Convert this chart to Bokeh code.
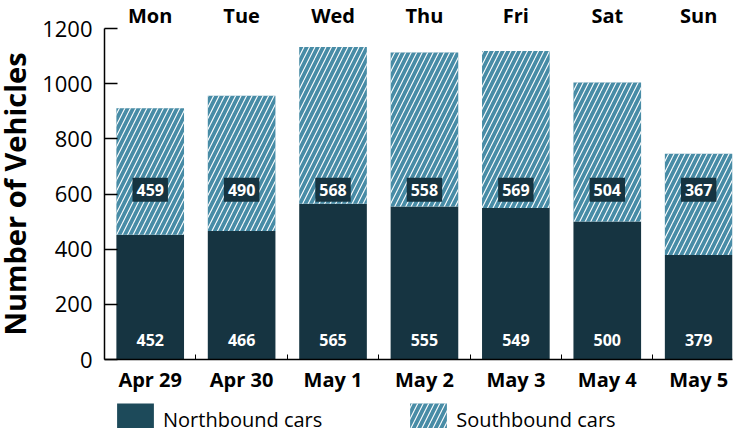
from bokeh.plotting import figure
from bokeh.layouts import column
from bokeh.models import (ColumnDataSource, FixedTicker, LinearAxis, Range1d,
                          Legend, LegendItem, SingleIntervalTicker)
from bokeh.core.properties import value
from bokeh.embed import file_html
from bokeh.resources import INLINE

dates = ["Apr 29", "Apr 30", "May 1", "May 2", "May 3", "May 4", "May 5"]
days = ["Mon", "Tue", "Wed", "Thu", "Fri", "Sat", "Sun"]
northbound = [452, 466, 565, 555, 549, 500, 379]
southbound = [459, 490, 568, 558, 569, 504, 367]

FONT = "Open Sans"
DARK = "#163441"
LEG_DARK = "#1d4a5a"
SOUTH = "#488ca6"
SOUTH_LABEL_Y = 615

xs = list(range(len(dates)))
src = ColumnDataSource(dict(
    x=xs,
    north=northbound,
    total=[n + s for n, s in zip(northbound, southbound)],
    nlab=[str(v) for v in northbound],
    slab=[str(v) for v in southbound],
    zero=[0] * len(xs),
    sy=[SOUTH_LABEL_Y] * len(xs),
))

p = figure(width=747, height=403, output_backend="svg", toolbar_location=None,
           x_range=Range1d(-0.5, 6.37), y_range=Range1d(0, 1200),
           min_border_left=108, min_border_right=7, min_border_top=30,
           min_border_bottom=35)
p.outline_line_color = None
p.xgrid.visible = False
p.ygrid.visible = False
p.background_fill_color = "white"

BW = 0.74
HATCH = dict(hatch_pattern="/", hatch_color="white", hatch_scale=11, hatch_weight=1.1)
p.vbar(x="x", bottom=0, top="north", width=BW, source=src,
       fill_color=DARK, line_color=None)
p.vbar(x="x", bottom="north", top="total", width=BW, source=src,
       fill_color=SOUTH, line_color=None, **HATCH)

p.text(x="x", y="zero", text="nlab", source=src, y_offset=-20,
       text_align="center", text_baseline="middle", text_color="white",
       text_font=value(FONT), text_font_size="16px", text_font_style="bold")
p.text(x="x", y="sy", text="slab", source=src,
       text_align="center", text_baseline="middle", text_color="white",
       text_font=value(FONT), text_font_size="16px", text_font_style="bold",
       background_fill_color=DARK,
       padding=dict(left=4, right=4, top=6, bottom=6))

# bottom axis
xa = p.xaxis[0]
xa.ticker = FixedTicker(ticks=xs, minor_ticks=[i + 0.5 for i in xs[:-1]])
xa.major_label_overrides = {i: d for i, d in zip(xs, dates)}
xa.major_tick_in = 0
xa.major_tick_out = 0
xa.minor_tick_in = 5
xa.minor_tick_out = 0
xa.axis_line_width = 1.5
xa.major_label_text_font = FONT
xa.major_label_text_font_size = "20px"
xa.major_label_text_font_style = "bold"
xa.major_label_text_color = "black"
xa.major_label_standoff = 6

# top axis
ta = LinearAxis(ticker=FixedTicker(ticks=xs),
                major_label_overrides={i: d for i, d in zip(xs, days)})
ta.axis_line_color = None
ta.major_tick_line_color = None
ta.minor_tick_line_color = None
ta.major_label_text_font = FONT
ta.major_label_text_font_size = "20px"
ta.major_label_text_font_style = "bold"
ta.major_label_text_color = "black"
ta.major_label_standoff = -6
ta.axis_label = " "
ta.axis_label_text_font_size = "5px"
ta.axis_label_standoff = -3
p.add_layout(ta, "above")

# y axis
ya = p.yaxis[0]
ya.ticker = SingleIntervalTicker(interval=200)
ya.minor_tick_line_color = None
ya.major_tick_in = 13
ya.major_tick_out = 0
ya.axis_line_width = 1.5
ya.major_tick_line_width = 1.5
ya.major_label_text_font = FONT
ya.major_label_text_font_size = "22px"
ya.major_label_text_color = "black"
ya.major_label_standoff = 8
ya.axis_label = "Number of Vehicles"
ya.axis_label_text_font = FONT
ya.axis_label_text_font_size = "29px"
ya.axis_label_text_font_style = "bold"
ya.axis_label_text_color = "black"
ya.axis_label_standoff = 5

# legend strip
lf = figure(width=747, height=33, output_backend="svg", toolbar_location=None,
            x_range=Range1d(0, 1), y_range=Range1d(0, 1),
            min_border=0, outline_line_color=None)
lf.axis.visible = False
lf.grid.visible = False
ln = lf.vbar(x="x", bottom="zero", top="zero", width=BW, source=src,
             fill_color=LEG_DARK, line_color=None)
ls = lf.vbar(x="x", bottom="zero", top="zero", width=BW, source=src,
             fill_color=SOUTH, line_color=None, **HATCH)
legend = Legend(items=[LegendItem(label="Northbound cars", renderers=[ln]),
                       LegendItem(label="Southbound cars", renderers=[ls])],
                orientation="horizontal", location=(8, -11),
                glyph_width=46, glyph_height=40, label_standoff=5, spacing=83,
                padding=0, margin=0, border_line_color=None,
                background_fill_alpha=0,
                label_text_font=FONT, label_text_font_size="20px",
                label_text_color="black")
lf.add_layout(legend)

layout = column(p, lf, spacing=0, margin=(-8, 0, 0, -8))

open("out.html", "w").write(file_html(layout, INLINE))
